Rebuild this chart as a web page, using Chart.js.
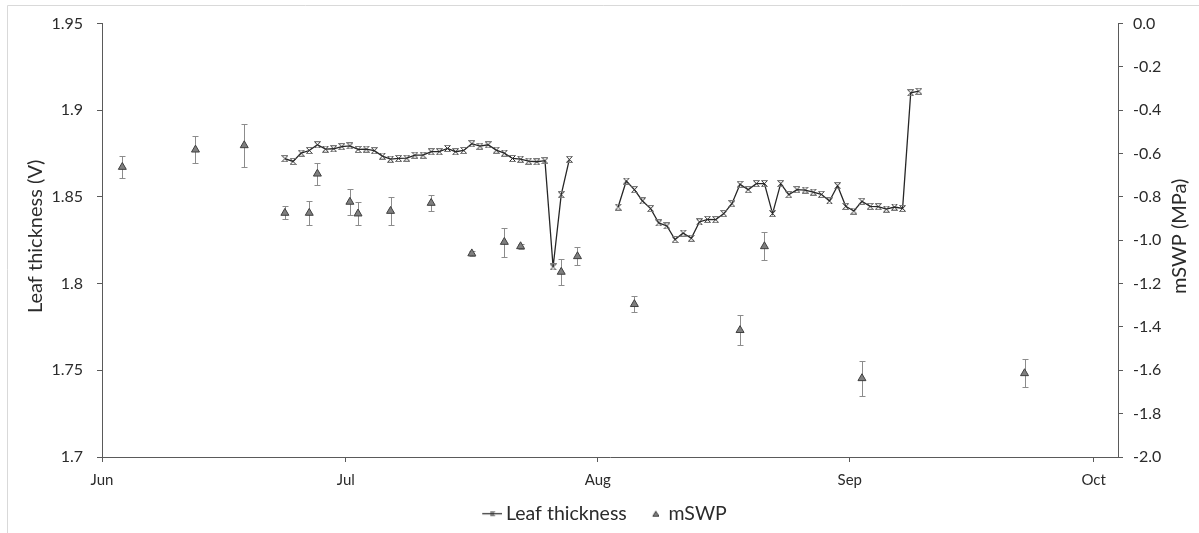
<!DOCTYPE html>
<html>
<head>
<meta charset="utf-8">
<script src="https://cdn.jsdelivr.net/npm/chart.js@4.4.1/dist/chart.umd.min.js"></script>
<style>
  html, body { margin: 0; padding: 0; background: #ffffff; }
  canvas { display: block; }
</style>
</head>
<body>
<canvas id="chart" width="1199" height="533"></canvas>
<script>
// ---- season and axis labels ----
const seasonStart = '2015-06-01';
const seasonEnd = '2015-10-04';
const monthStarts = ['2015-06-01', '2015-07-01', '2015-08-01', '2015-09-01', '2015-10-01'];
const monthLabels = ['Jun', 'Jul', 'Aug', 'Sep', 'Oct'];
const thicknessTicks = [1.7, 1.75, 1.8, 1.85, 1.9, 1.95];
const swpTicks = [-2.0, -1.8, -1.6, -1.4, -1.2, -1.0, -0.8, -0.6, -0.4, -0.2, 0.0];

// ---- leaf thickness sensor (V), daily readings ----
const thicknessRun1Start = '2015-06-23';
const thicknessRun1 = [
  1.8721, 1.8705, 1.8753, 1.8768, 1.8801, 1.8776, 1.8778, 1.8790, 1.8795, 1.8774,
  1.8776, 1.8767, 1.8736, 1.8718, 1.8722, 1.8724, 1.8741, 1.8741, 1.8761, 1.8761,
  1.8780, 1.8761, 1.8768, 1.8807, 1.8793, 1.8801, 1.8770, 1.8753, 1.8722, 1.8718,
  1.8707, 1.8703, 1.8709, 1.8096, 1.8513, 1.8717
];
const thicknessRun2Start = '2015-08-03';
const thicknessRun2 = [
  1.8442, 1.8592, 1.8542, 1.8477, 1.8433, 1.8350, 1.8333, 1.8254, 1.8292, 1.8262,
  1.8356, 1.8371, 1.8369, 1.8404, 1.8461, 1.8573, 1.8542, 1.8577, 1.8577, 1.8404,
  1.8577, 1.8513, 1.8542, 1.8540, 1.8528, 1.8515, 1.8477, 1.8565, 1.8446, 1.8419,
  1.8475, 1.8446, 1.8444, 1.8430, 1.8442, 1.8434, 1.9101, 1.9110
];

// ---- midday stem water potential (MPa), mean and error ----
const swpDates = [
  '2015-06-03', '2015-06-12', '2015-06-18', '2015-06-23', '2015-06-26', '2015-06-27',
  '2015-07-01', '2015-07-02', '2015-07-06', '2015-07-11', '2015-07-16', '2015-07-20',
  '2015-07-22', '2015-07-27', '2015-07-29', '2015-08-05', '2015-08-18', '2015-08-21',
  '2015-09-02', '2015-09-22'
];
const swpMean = [
  -0.662, -0.582, -0.562, -0.874, -0.874, -0.693,
  -0.823, -0.877, -0.865, -0.828, -1.061, -1.008,
  -1.028, -1.146, -1.074, -1.295, -1.415, -1.028,
  -1.637, -1.614
];
const swpError = [
  0.050, 0.063, 0.100, 0.030, 0.054, 0.050,
  0.058, 0.053, 0.065, 0.039, 0.012, 0.067,
  0.010, 0.058, 0.042, 0.037, 0.069, 0.065,
  0.081, 0.065
];

// ---- helpers: dates become day numbers from the start of June ----
const DAY_MS = 86400000;
const dayOf = s => (Date.parse(s) - Date.parse(seasonStart)) / DAY_MS;
// each reading sits in the middle of its own day
const dayCentre = s => dayOf(s) + 0.5;

function dailyRun(start, values) {
  const d0 = dayCentre(start);
  return values.map((v, i) => ({ x: d0 + i, y: v }));
}

const thicknessData = [
  ...dailyRun(thicknessRun1Start, thicknessRun1),
  { x: dayOf(thicknessRun2Start) - 1, y: null },   // logger gap
  ...dailyRun(thicknessRun2Start, thicknessRun2)
];
const swpData = swpDates.map((d, i) => ({ x: dayCentre(d), y: swpMean[i] }));

// ---- marker images ----
function starMarker(size) {
  const c = document.createElement('canvas');
  c.width = size; c.height = size;
  const g = c.getContext('2d');
  const e = size - 0.5;
  g.strokeStyle = '#2e2e2e';
  g.lineWidth = 1;
  g.beginPath();
  g.moveTo(0.5, 0.5); g.lineTo(e, e);
  g.moveTo(e, 0.5); g.lineTo(0.5, e);
  g.stroke();
  g.strokeStyle = '#7a7a7a';
  g.beginPath();
  g.moveTo(0.5, 0.5); g.lineTo(e, 0.5);
  g.moveTo(0.5, e); g.lineTo(e, e);
  g.stroke();
  return c;
}
// legend symbol: short line with a marker, drawn in the right part of the swatch
function legendLineSymbol() {
  const c = document.createElement('canvas');
  c.width = 32; c.height = 7;
  const g = c.getContext('2d');
  g.strokeStyle = '#262626';
  g.lineWidth = 1.2;
  g.beginPath(); g.moveTo(12, 3.5); g.lineTo(32, 3.5); g.stroke();
  g.drawImage(starMarker(5), 19.5, 1);
  return c;
}
// legend symbol: small triangle near the label
function legendTriangleSymbol() {
  const c = document.createElement('canvas');
  c.width = 20; c.height = 8;
  const g = c.getContext('2d');
  g.fillStyle = '#7f7f7f';
  g.strokeStyle = '#3f3f3f';
  g.lineWidth = 1;
  g.beginPath();
  g.moveTo(17, 1.5); g.lineTo(20, 6.5); g.lineTo(14, 6.5); g.closePath();
  g.fill(); g.stroke();
  return c;
}

const FONT = 'Lato, "Open Sans", "DejaVu Sans", sans-serif';
const TEXT = '#2b2b2b';
const AXIS = '#5a5a5a';

// ---- error bars for the water potential points ----
const errorBars = {
  id: 'errorBars',
  beforeDatasetsDraw(chart) {
    const meta = chart.getDatasetMeta(1);
    const scale = chart.scales.y1;
    const ctx = chart.ctx;
    ctx.save();
    ctx.strokeStyle = '#8c8c8c';
    ctx.lineWidth = 1;
    meta.data.forEach((pt, i) => {
      const x = Math.round(pt.x) + 0.5;
      const top = Math.round(scale.getPixelForValue(swpMean[i] + swpError[i])) + 0.5;
      const bot = Math.round(scale.getPixelForValue(swpMean[i] - swpError[i])) + 0.5;
      ctx.beginPath();
      ctx.moveTo(x, top); ctx.lineTo(x, bot);
      ctx.moveTo(x - 3, top); ctx.lineTo(x + 3, top);
      ctx.moveTo(x - 3, bot); ctx.lineTo(x + 3, bot);
      ctx.stroke();
    });
    ctx.restore();
  }
};

// ---- outer frame and the two rotated axis titles ----
const decorations = {
  id: 'decorations',
  beforeDraw(chart) {
    const ctx = chart.ctx;
    ctx.save();
    ctx.strokeStyle = '#d9d9d9';
    ctx.lineWidth = 1;
    ctx.beginPath();
    ctx.moveTo(7.5, chart.height); ctx.lineTo(7.5, 5.5); ctx.lineTo(chart.width, 5.5);
    ctx.stroke();
    ctx.restore();
  },
  afterDraw(chart) {
    const ctx = chart.ctx;
    const area = chart.chartArea;
    const midY = (area.top + area.bottom) / 2 - 4;
    ctx.save();
    ctx.fillStyle = TEXT;
    ctx.font = '20px ' + FONT;
    ctx.textAlign = 'center';
    ctx.textBaseline = 'middle';
    [[36, 'Leaf thickness (V)'], [1180, 'mSWP (MPa)']].forEach(([x, text]) => {
      ctx.save();
      ctx.translate(x, midY);
      ctx.rotate(-Math.PI / 2);
      ctx.fillText(text, 0, 0);
      ctx.restore();
    });
    ctx.restore();
  }
};

const starImg = starMarker(7);

new Chart(document.getElementById('chart'), {
  type: 'line',
  data: {
    datasets: [
      {
        label: 'Leaf thickness',
        data: thicknessData,
        yAxisID: 'y',
        borderColor: '#262626',
        borderWidth: 1.3,
        pointStyle: starImg,
        pointRadius: 3,
        tension: 0,
        spanGaps: false
      },
      {
        label: 'mSWP',
        data: swpData,
        yAxisID: 'y1',
        showLine: false,
        pointStyle: 'triangle',
        pointRadius: 4.6,
        backgroundColor: '#7f7f7f',
        borderColor: '#3f3f3f',
        pointBorderWidth: 1
      }
    ]
  },
  options: {
    responsive: false,
    animation: false,
    events: [],
    layout: { padding: { top: 23, left: 4, right: 0, bottom: -0.5 } },
    scales: {
      x: {
        type: 'linear',
        min: 0,
        max: dayOf(seasonEnd),
        afterBuildTicks: s => { s.ticks = monthStarts.map(d => ({ value: dayOf(d) })); },
        afterFit: s => { s.height = 35; },
        ticks: {
          callback: (v, i) => monthLabels[i],
          font: { family: FONT, size: 15 },
          color: TEXT,
          padding: 9,
          maxRotation: 0,
          autoSkip: false
        },
        grid: { drawOnChartArea: false, drawTicks: true, tickLength: 5, color: AXIS },
        border: { display: true, color: AXIS, width: 1 }
      },
      y: {
        position: 'left',
        min: 1.7,
        max: 1.95,
        afterBuildTicks: s => { s.ticks = thicknessTicks.map(v => ({ value: v })); },
        afterFit: s => { s.width = 98; },
        ticks: {
          callback: v => String(parseFloat(v.toFixed(2))),
          font: { family: FONT, size: 16 },
          color: TEXT,
          padding: 14
        },
        grid: { drawOnChartArea: false, drawTicks: true, tickLength: 5, color: AXIS },
        border: { display: true, color: AXIS, width: 1 }
      },
      y1: {
        position: 'right',
        min: -2.0,
        max: 0.0,
        afterBuildTicks: s => { s.ticks = swpTicks.map(v => ({ value: v })); },
        afterFit: s => { s.width = 81; },
        ticks: {
          callback: v => v.toFixed(1),
          font: { family: FONT, size: 16 },
          color: TEXT,
          padding: 10
        },
        grid: { drawOnChartArea: false, drawTicks: true, tickLength: 5, color: AXIS },
        border: { display: true, color: AXIS, width: 1 }
      }
    },
    plugins: {
      tooltip: { enabled: false },
      legend: {
        position: 'bottom',
        labels: {
          usePointStyle: true,
          pointStyleWidth: 20,
          boxHeight: 8,
          padding: 12,
          color: TEXT,
          font: { family: FONT, size: 19.5 },
          generateLabels: () => [
            { text: 'Leaf thickness', pointStyle: legendLineSymbol(), fillStyle: '#262626',
              strokeStyle: '#262626', lineWidth: 0, hidden: false, datasetIndex: 0, fontColor: TEXT },
            { text: 'mSWP', pointStyle: legendTriangleSymbol(), fillStyle: '#7f7f7f',
              strokeStyle: '#3f3f3f', lineWidth: 0, hidden: false, datasetIndex: 1, fontColor: TEXT }
          ]
        }
      }
    }
  },
  plugins: [errorBars, decorations]
});
</script>
</body>
</html>
